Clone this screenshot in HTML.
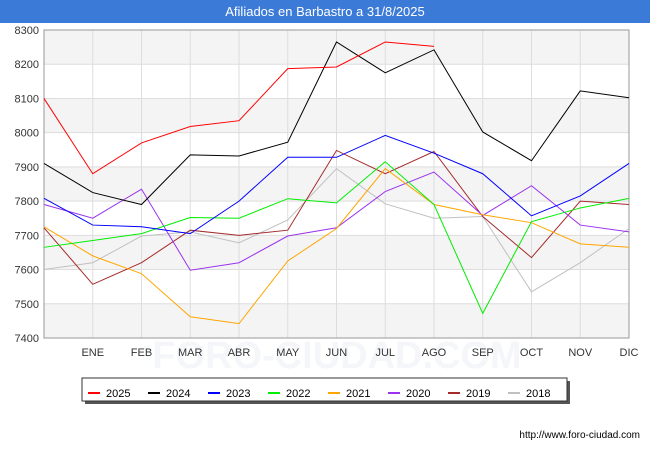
<!DOCTYPE html>
<html><head><meta charset="utf-8"><style>
body{margin:0;width:650px;height:450px;background:#fff;font-family:"Liberation Sans",sans-serif;overflow:hidden}
#title{position:absolute;left:0;top:0;width:650px;height:23px;background:#3c7ad8;color:#fff;font-size:13px;text-align:center;line-height:23px}
svg{position:absolute;left:0;top:0}
</style></head><body>
<div id="title">Afiliados en Barbastro a 31/8/2025</div>
<svg id="c" width="650" height="450"></svg>
<script>
const months=["","ENE","FEB","MAR","ABR","MAY","JUN","JUL","AGO","SEP","OCT","NOV","DIC"];
const yTicks=[7400,7500,7600,7700,7800,7900,8000,8100,8200,8300];
const seriesNames=["2025","2024","2023","2022","2021","2020","2019","2018"];
const colors=["#ff0000","#000000","#0000ff","#00ee00","#ffa500","#9a32ee","#a52a2a","#c0c0c0"];
const s2025=[8100,7880,7970,8018,8035,8187,8192,8265,8252];
const s2024=[7910,7825,7790,7935,7932,7972,8265,8175,8242,8002,7918,8122,8102];
const s2023=[7808,7730,7725,7705,7800,7928,7928,7992,7940,7880,7757,7815,7910];
const s2022=[7665,7685,7705,7752,7750,7807,7795,7915,7790,7472,7740,7780,7808];
const s2021=[7725,7640,7588,7462,7442,7625,7720,7895,7790,7760,7737,7675,7665];
const s2020=[7790,7750,7835,7598,7620,7698,7722,7828,7885,7758,7845,7730,7710];
const s2019=[7722,7557,7620,7715,7700,7715,7948,7880,7945,7755,7635,7800,7790];
const s2018=[7600,7620,7698,7710,7678,7745,7895,7792,7750,7755,7535,7620,7720];
const all=[s2025,s2024,s2023,s2022,s2021,s2020,s2019,s2018];
const X0=44,X1=629,Y0=338,Y1=30,ymin=7400,ymax=8300;
const xs=i=>X0+i*(X1-X0)/(months.length-1);
const ys=v=>Y0-(v-ymin)*(Y0-Y1)/(ymax-ymin);
const svg=document.getElementById('c');const NS="http://www.w3.org/2000/svg";
function mk(t,a,p){const e=document.createElementNS(NS,t);for(const k in a)e.setAttribute(k,a[k]);(p||svg).appendChild(e);return e;}
for(let i=0;i<yTicks.length-1;i++){const r=mk('rect',{x:X0,y:ys(yTicks[i+1]),width:X1-X0,height:ys(yTicks[i])-ys(yTicks[i+1]),fill:((yTicks.length-2-i)%2===0)?'#f4f4f4':'#ffffff'});

}
const wm=mk('text',{x:337,y:368,'text-anchor':'middle','font-size':38,fill:'#f4f6f9','font-weight':'bold'});wm.textContent='FORO-CIUDAD.COM';


yTicks.forEach(v=>{const l=mk('line',{x1:X0,x2:X1,y1:ys(v),y2:ys(v),stroke:'#dddddd'});


const t=mk('text',{x:X0-5,y:ys(v)+4,'text-anchor':'end','font-size':11,fill:'#333'});t.textContent=v;

});
months.forEach((m,i)=>{if(i===0)return;const l=mk('line',{x1:xs(i),x2:xs(i),y1:Y1,y2:Y0,stroke:'#dddddd'});


const t=mk('text',{x:xs(i),y:356,'text-anchor':'middle','font-size':11,fill:'#333'});t.textContent=m;

});
const fr=mk('rect',{x:X0,y:Y1,width:X1-X0,height:Y0-Y1,fill:'none',stroke:'#999'});


for(let s=all.length-1;s>=0;s--){const pts=all[s].map((v,i)=>xs(i)+','+ys(v)).join(' ');
const p=mk('polyline',{points:pts,fill:'none',stroke:colors[s],'stroke-width':1});

}
mk('rect',{x:85,y:381,width:485,height:23,fill:'#555'});
const lb=mk('rect',{x:82,y:378,width:485,height:23,fill:'#fff',stroke:'#333'});


seriesNames.forEach((n,i)=>{const x=88+i*60;const g=mk('g',{});


mk('line',{x1:x,x2:x+12,y1:393,y2:393,stroke:colors[i],'stroke-width':2},g);
const t=mk('text',{x:x+18,y:397,'font-size':11,fill:'#000'},g);t.textContent=n;});
const f=mk('text',{x:640,y:438,'text-anchor':'end','font-size':10,fill:'#000'});f.textContent='http://www.foro-ciudad.com';


</script>
</body></html>
